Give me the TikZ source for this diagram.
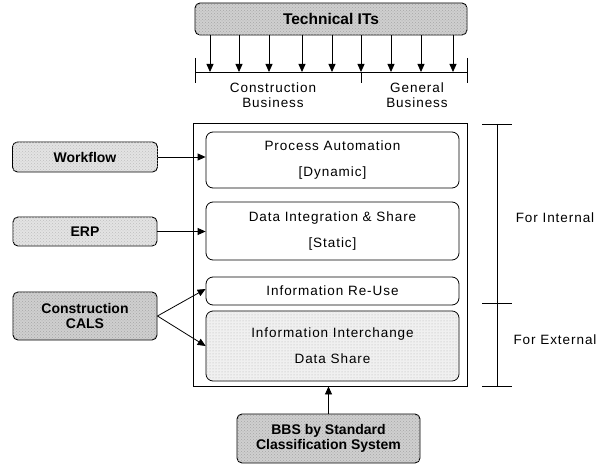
\documentclass[tikz,border=0pt]{standalone}
\usepackage{fontspec}
\setmainfont{Liberation Sans}
\newfontfamily\spaced[LetterSpace=7]{Liberation Sans}
\usetikzlibrary{arrows.meta,patterns}
\tikzset{
  arr/.style={-{Triangle[length=8pt,width=7pt]},line width=0.8pt},
  darkbox/.style={draw,line width=0.9pt,rounded corners=5pt,fill=gray!38,
    postaction={pattern=crosshatch dots,pattern color=gray!70},
    font=\bfseries\fontsize{14}{15}\selectfont,align=center,inner sep=0pt},
  lightbox/.style={draw,line width=0.9pt,rounded corners=5pt,fill=gray!22,
    postaction={pattern=crosshatch dots,pattern color=gray!50},
    font=\bfseries\fontsize{14}{15}\selectfont,align=center,inner sep=0pt},
  inbox/.style={draw,line width=0.8pt,rounded corners=7pt,minimum width=253pt,
    align=center,inner sep=0pt,font=\spaced\fontsize{13.5}{26}\selectfont},
  lab/.style={font=\spaced\fontsize{13.5}{15}\selectfont,align=center,inner sep=0pt},
  tick/.style={line width=0.8pt}
}
\begin{document}
\begin{tikzpicture}[x=1pt,y=-1pt]
\useasboundingbox (0,0) rectangle (606,468);
% top
\node[darkbox,minimum width=272pt,minimum height=32pt,font=\bfseries\fontsize{15.5}{17}\selectfont] (tech) at (331,19) {Technical ITs};
\coordinate (busL) at (195,72);
\coordinate (busR) at (467,72);
\coordinate (busM) at (361,72);
\draw[tick] (busL) -- (busR);
\draw[tick] ([yshift=14pt]busL) -- ([yshift=-11pt]busL);
\draw[tick] ([yshift=14pt]busR) -- ([yshift=-11pt]busR);
\draw[tick] (busM) -- ([yshift=-11pt]busM);
\foreach \x [count=\i] in {210,239,269,302,332,361,391,421,453}{
  \coordinate (b\i) at (\x,72);
  \draw[arr] (tech.south -| b\i) -- (b\i);
}
\node[lab] (cb) at (273,95) {Construction\\Business};
\node[lab] (gb) at (417,95) {General\\Business};
% main box
\node[draw,line width=0.9pt,minimum width=274pt,minimum height=263pt,inner sep=0pt] (outer) at (330,254.5) {};
\node[inbox,minimum height=56pt] (pa) at (332.5,160) {Process Automation\\{[}Dynamic{]}};
\node[inbox,minimum height=58pt] (di) at (332.5,231) {Data Integration \& Share\\{[}Static{]}};
\node[inbox,minimum height=28pt] (ir) at (332.5,291) {Information Re-Use};
\node[inbox,minimum height=70pt,fill=gray!12,postaction={pattern=dots,pattern color=gray!60}] (ii) at (332.5,346) {Information Interchange\\Data Share};
% left boxes
\node[lightbox,minimum width=145pt,minimum height=30pt] (wf) at (85,157) {Workflow};
\node[lightbox,minimum width=144pt,minimum height=29pt] (erp) at (85,231.5) {ERP};
\node[darkbox,minimum width=144pt,minimum height=48pt] (cals) at (85,316) {Construction\\CALS};
\draw[arr] (wf.east) -- (wf.east -| pa.west);
\draw[arr] (erp.east) -- (erp.east -| di.west);
\draw[arr] (cals.east) -- ([yshift=2pt]ir.west);
\draw[arr] (cals.east) -- (ii.west);
% bottom
\node[darkbox,minimum width=183pt,minimum height=49pt] (bbs) at (328.5,438.5) {BBS by Standard\\Classification System};
\draw[arr] (bbs.north) -- (bbs.north |- outer.south);
% right bracket
\coordinate (rT) at (497,124);
\coordinate (rM) at (497,303);
\coordinate (rB) at (497,386);
\draw[tick] (rT) -- (rB);
\foreach \c in {rT,rM,rB}{\draw[tick] ([xshift=-15pt]\c) -- ([xshift=15pt]\c);}
\node[lab] (fi) at (555,218) {For Internal};
\node[lab] (fe) at (555,340) {For External};
\end{tikzpicture}
\end{document}
